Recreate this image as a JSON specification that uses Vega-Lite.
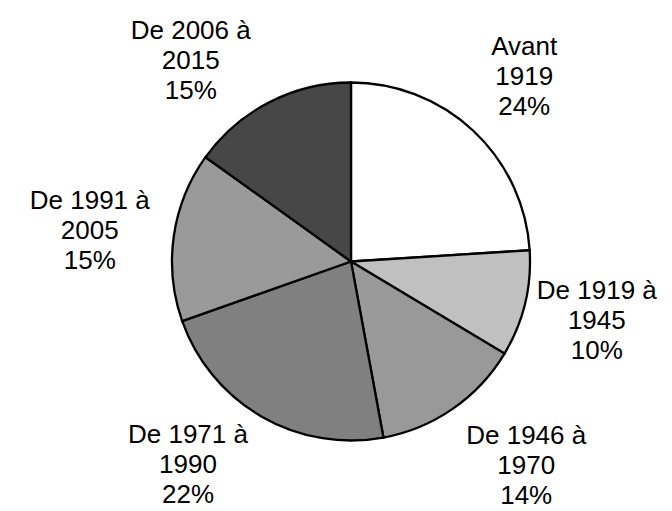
{
  "$schema": "https://vega.github.io/schema/vega-lite/v6.json",
  "width": 642,
  "height": 499,
  "autosize": {"type": "none"},
  "padding": {"left": 30, "top": 12, "right": 0, "bottom": 0},
  "background": "white",
  "config": {
    "view": {"stroke": null},
    "text": {
      "font": "Liberation Sans",
      "fontSize": 26,
      "lineHeight": 30,
      "lineBreak": "\n",
      "align": "center",
      "baseline": "middle",
      "color": "black",
      "dy": -30
    }
  },
  "data": {
    "values": [
      {"ordre": 1, "periode": "Avant 1919", "etiquette": "Avant\n1919\n24%", "part": 24.0},
      {"ordre": 2, "periode": "De 1919 à 1945", "etiquette": "De 1919 à\n1945\n10%", "part": 9.6},
      {"ordre": 3, "periode": "De 1946 à 1970", "etiquette": "De 1946 à\n1970\n14%", "part": 13.5},
      {"ordre": 4, "periode": "De 1971 à 1990", "etiquette": "De 1971 à\n1990\n22%", "part": 22.5},
      {"ordre": 5, "periode": "De 1991 à 2005", "etiquette": "De 1991 à\n2005\n15%", "part": 15.3},
      {"ordre": 6, "periode": "De 2006 à 2015", "etiquette": "De 2006 à\n2015\n15%", "part": 15.1}
    ]
  },
  "encoding": {
    "theta": {"field": "part", "type": "quantitative", "stack": true},
    "order": {"field": "ordre", "type": "quantitative"}
  },
  "layer": [
    {
      "mark": {"type": "arc", "radius": 179, "stroke": "black", "strokeWidth": 2.3},
      "encoding": {
        "color": {
          "field": "periode",
          "type": "nominal",
          "legend": null,
          "scale": {
            "domain": ["Avant 1919", "De 1919 à 1945", "De 1946 à 1970", "De 1971 à 1990", "De 1991 à 2005", "De 2006 à 2015"],
            "range": ["#ffffff", "#c0c0c0", "#999999", "#808080", "#9a9a9a", "#474747"]
          }
        }
      }
    },
    {
      "mark": {"type": "text", "radius": 253},
      "encoding": {
        "text": {"condition": {"test": "datum.ordre == 1 || datum.ordre == 2", "field": "etiquette"}, "value": ""}
      }
    },
    {
      "mark": {"type": "text", "radius": 263, "thetaOffset": -0.026},
      "encoding": {
        "text": {"condition": {"test": "datum.ordre == 5", "field": "etiquette"}, "value": ""}
      }
    },
    {
      "mark": {"type": "text", "radius": 269, "thetaOffset": -0.103},
      "encoding": {
        "text": {"condition": {"test": "datum.ordre == 3", "field": "etiquette"}, "value": ""}
      }
    },
    {
      "mark": {"type": "text", "radius": 261, "thetaOffset": 0.15},
      "encoding": {
        "text": {"condition": {"test": "datum.ordre == 4", "field": "etiquette"}, "value": ""}
      }
    },
    {
      "mark": {"type": "text", "radius": 257, "thetaOffset": -0.199},
      "encoding": {
        "text": {"condition": {"test": "datum.ordre == 6", "field": "etiquette"}, "value": ""}
      }
    }
  ]
}
